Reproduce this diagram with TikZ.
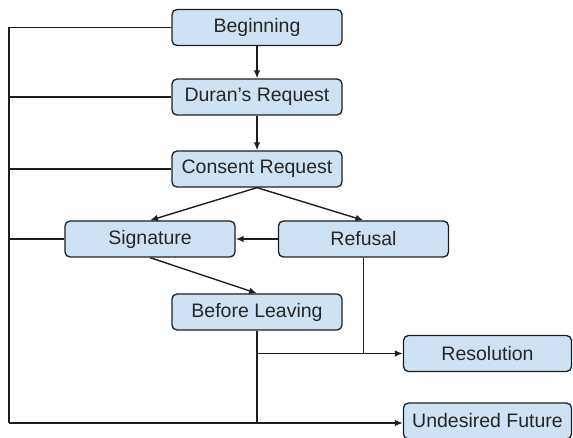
\documentclass[tikz,border=0pt]{standalone}
\usepackage{fontspec}
\setmainfont{Liberation Sans}
\usepackage{tikz}
\usetikzlibrary{arrows,arrows.meta,positioning,calc}
\definecolor{boxblue}{RGB}{207,226,243}
\definecolor{linegray}{RGB}{30,30,30}

\tikzset{
  stage/.style={draw=linegray, line width=1.3pt, fill=boxblue, rounded corners=5pt,
    minimum width=170pt, minimum height=36pt, inner sep=0pt,
    font=\fontsize{19.5}{22}\selectfont, text=black!85},
  endstage/.style={stage, minimum width=168pt},
  link/.style={draw=linegray, line width=1.4pt},
  flow/.style={link, -{Latex[length=8pt,width=6.5pt]}}
}

\begin{document}
\begin{tikzpicture}[x=1pt,y=-1pt]
\useasboundingbox (0,0) rectangle (573,438);

\node[stage] (begin) at (257,27.5) {Beginning};
\node[stage] (duran) at (257,97) {Duran's Request};
\node[stage] (consent) at (257,169) {Consent Request};
\node[stage] (signature) at (150,239) {Signature};
\node[stage] (refusal) at (363.5,239) {Refusal};
\node[stage] (leaving) at (257,312) {Before Leaving};
\node[endstage] (resolution) at (487.5,353.5) {Resolution};
\node[endstage] (undesired) at (487.5,421) {Undesired Future};

\coordinate (bustop) at (9,27.5);
\coordinate (busbot) at (9,423);

% main path
\draw[flow] (begin) -- (duran);
\draw[flow] (duran) -- (consent);
\draw[flow] (consent.south) -- (signature.north);
\draw[flow] (consent.south) -- (refusal.north);
\draw[flow] (refusal) -- (signature);
\draw[flow] (signature.south) -- (leaving.north);

% left bus
\draw[link] (bustop) -- (busbot);
\foreach \n in {begin,duran,consent,signature}
  \draw[link] (\n.west) -- (\n.west -| bustop);
\draw[link] (busbot) -- (busbot -| leaving.south);

% endings
\draw[link] (leaving.south) -- (leaving.south |- busbot);
\draw[link] (refusal.south) -- (refusal.south |- resolution.west);
\draw[flow] (leaving.south |- resolution.west) -- (resolution.west);
\draw[flow] (leaving.south |- busbot) -- (undesired.west |- busbot);
\end{tikzpicture}
\end{document}
